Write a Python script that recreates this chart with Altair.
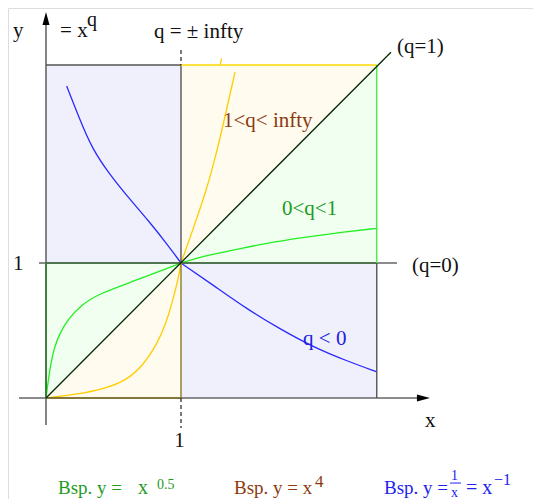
import altair as alt
import pandas as pd

# ---------------- data (in chart units: 1 = the "1" tick) ----------------
X_DOMAIN = [-0.28148, 3.60741]
Y_DOMAIN = [-0.74815, 2.88889]
XMAX, YMAX = 2.45, 2.467

# example curves, each drawn as two branches meeting at (1, 1)
blue_a_x = [0.153, 0.252, 0.339, 0.474, 0.598, 0.770, 0.894, 1.0]
blue_a_y = [2.311, 2.059, 1.852, 1.652, 1.500, 1.300, 1.144, 1.0]
blue_b_x = [1.0, 1.237, 1.489, 1.733, 1.978, 2.230, 2.452]
blue_b_y = [1.0, 0.837, 0.659, 0.511, 0.378, 0.274, 0.193]

yellow_a_x = [0.0, 0.2, 0.450, 0.598, 0.721, 0.820, 0.894, 0.943, 0.980, 1.0]
yellow_a_y = [0.0, 0.022, 0.072, 0.133, 0.244, 0.393, 0.565, 0.739, 0.887, 1.0]
yellow_b_x = [1.0, 1.096, 1.189, 1.256, 1.315, 1.359, 1.400]
yellow_b_y = [1.0, 1.269, 1.541, 1.787, 2.037, 2.232, 2.413]

yellow_tick_x = [1.289, 1.301]
yellow_tick_y = [2.467, 2.516]

green_a_x = [0.0, 0.030, 0.060, 0.100, 0.160, 0.260, 0.400, 0.650, 1.0]
green_a_y = [0.0, 0.230, 0.370, 0.475, 0.580, 0.690, 0.775, 0.865, 1.0]
green_b_x = [1.0, 1.202, 1.450, 1.696, 1.943, 2.190, 2.450]
green_b_y = [1.0, 1.059, 1.109, 1.158, 1.195, 1.227, 1.257]

# filled regions
fill_region = ["ul", "ul", "lr", "lr", "llg", "llg", "lly", "lly", "ury", "ury", "urg", "urg"]
fill_x = [0, 1, 1, XMAX, 0, 1, 0, 1, 1, XMAX, 1, XMAX]
fill_y = [1, 1, 0, 0, 0, 1, 0, 0, 1, XMAX, 1, 1]
fill_y2 = [YMAX, YMAX, 1, 1, 1, 1, 0, 1, YMAX, YMAX, 1, XMAX]
fill_color = ["#f0f0fc"] * 4 + ["#f0fff0"] * 2 + ["#fffcef"] * 2 + ["#fffcef"] * 2 + ["#f0fff0"] * 2

# solid segments
seg_x = [-0.2, 0, -0.052, 0, 1, 1, 0, 1, XMAX, XMAX, 0, 0, 0, 1]
seg_y = [0, -0.2, 1, 1, YMAX, 1, YMAX, YMAX, YMAX, 1, 0, 0, 0, 1]
seg_x2 = [2.8, 0, 2.6, XMAX, 1, 1, 1, XMAX, XMAX, XMAX, 0, 1, 2.555, 1]
seg_y2 = [0, 2.82, 1, 1, 1, 0, YMAX, YMAX, 1, 0, 1, 0, 2.561, 1]
seg_color = ["#666666", "#666666", "#666666", "#3f6f3f", "#555555", "#8a7d20", "#555555",
             "#ffd700", "#44ee44", "#555555", "#2f7f2f", "#807020", "#062806", "#555555"]
seg_width = [1.6, 1.6, 1.6, 1.6, 1.4, 1.4, 1.6, 1.4, 1.4, 1.4, 1.6, 1.6, 1.3, 1.0]

# dashed segments (x = 1 outside the box)
dash_x = [1, 1]
dash_y = [2.578, 0]
dash_y2 = [YMAX, -0.222]

# labels
lab_text = ["y", "= x", "q", "q = ± infty", "(q=1)", "1<q< infty", "0<q<1", "(q=0)", "q < 0",
            "1", "1", "x",
            "Bsp. y =", "x", "0.5", "Bsp. y = x", "4", "Bsp. y =", "1", "x", "= x", "−1"]
lab_x = [-0.244, 0.104, 0.304, 0.800, 2.600, 1.311, 1.748, 2.711, 1.904,
         -0.244, 0.950, 2.807,
         0.089, 0.681, 0.822, 1.393, 1.993, 2.504, 3.000, 3.000, 3.111, 3.319]
lab_y = [2.674, 2.674, 2.756, 2.667, 2.556, 2.007, 1.356, 0.933, 0.393,
         0.948, -0.363, -0.215,
         -0.711, -0.711, -0.674, -0.711, -0.659, -0.711, -0.607, -0.733, -0.711, -0.644]
lab_size = [21, 21, 20, 21, 21, 21, 21, 21, 21,
            21, 21, 21,
            19, 20, 14, 19, 17, 19, 14, 14, 20, 16]
lab_color = ["#111111"] * 5 + ["#8b3a0f", "#1f9a1f", "#111111", "#2222dd"] + ["#111111"] * 3 + \
            ["#1f9a1f", "#1f9a1f", "#1f9a1f", "#8b3a0f", "#8b3a0f"] + ["#2222ee"] * 5

frac_x = [2.993]
frac_x2 = [3.074]
frac_y = [-0.630]

arrow_x = [2.844, 0]
arrow_y = [0, 2.859]
arrow_shape = ["M0,0L-2,-0.54L-2,0.54Z", "M0,0L-0.54,2L0.54,2Z"]

SERIF = "Liberation Serif, Times New Roman, DejaVu Serif, serif"

# ---------------- build tables ----------------
branches = [
    ("blue_a", blue_a_x, blue_a_y, "#2a2aff"),
    ("blue_b", blue_b_x, blue_b_y, "#2a2aff"),
    ("yellow_a", yellow_a_x, yellow_a_y, "#ffcc00"),
    ("yellow_b", yellow_b_x, yellow_b_y, "#ffcc00"),
    ("ytick", yellow_tick_x, yellow_tick_y, "#ffcc00"),
    ("green_a", green_a_x, green_a_y, "#22ee22"),
    ("green_b", green_b_x, green_b_y, "#22ee22"),
]
rows = []
for name, bx, by, col in branches:
    for i, (a, b) in enumerate(zip(bx, by)):
        rows.append({"x": a, "y": b, "curve": name, "color": col, "idx": i})
curves = pd.DataFrame(rows)

fills = pd.DataFrame({"region": fill_region, "x": fill_x, "y": fill_y, "y2": fill_y2, "color": fill_color})
segs = pd.DataFrame({"x": seg_x, "y": seg_y, "x2": seg_x2, "y2": seg_y2, "color": seg_color, "w": seg_width})
dashes = pd.DataFrame({"x": dash_x, "y": dash_y, "y2": dash_y2})
labels = pd.DataFrame({"text": lab_text, "x": lab_x, "y": lab_y, "size": lab_size, "color": lab_color})
frac = pd.DataFrame({"x": frac_x, "x2": frac_x2, "y": frac_y})
arrows = pd.DataFrame({"x": arrow_x, "y": arrow_y, "shape": arrow_shape})

xs = alt.Scale(domain=X_DOMAIN, nice=False, zero=False)
ys = alt.Scale(domain=Y_DOMAIN, nice=False, zero=False)
X = lambda f="x": alt.X(f"{f}:Q", scale=xs, axis=None)
Y = lambda f="y": alt.Y(f"{f}:Q", scale=ys, axis=None)

fill_layer = alt.Chart(fills).mark_area(opacity=1).encode(
    x=X(), y=Y(), y2="y2:Q", detail="region:N", color=alt.Color("color:N", scale=None))

curve_layer = alt.Chart(curves).mark_line(strokeWidth=1.3, interpolate="basis").encode(
    x=X(), y=Y(), detail="curve:N", order="idx:Q", color=alt.Color("color:N", scale=None))

seg_layer = alt.Chart(segs).mark_rule().encode(
    x=X(), y=Y(), x2="x2:Q", y2="y2:Q",
    color=alt.Color("color:N", scale=None), strokeWidth=alt.StrokeWidth("w:Q", scale=None))

dash_layer = alt.Chart(dashes).mark_rule(color="#222222", strokeWidth=1.2, strokeDash=[4, 3]).encode(
    x=X(), y=Y(), y2="y2:Q")

frac_layer = alt.Chart(frac).mark_rule(color="#2222ee", strokeWidth=1).encode(
    x=X(), x2="x2:Q", y=Y())

arrow_layer = alt.Chart(arrows).mark_point(filled=True, opacity=1, color="#000000", size=169, strokeWidth=0).encode(
    x=X(), y=Y(), shape=alt.Shape("shape:N", scale=None))

text_layer = alt.Chart(labels).mark_text(align="left", baseline="alphabetic", font=SERIF).encode(
    x=X(), y=Y(), text="text:N",
    size=alt.Size("size:Q", scale=None), color=alt.Color("color:N", scale=None))

chart = alt.layer(fill_layer, curve_layer, seg_layer, dash_layer, frac_layer, arrow_layer, text_layer).properties(
    width=525, height=491, autosize=alt.AutoSizeParams(type="none"), padding=0
).configure_view(stroke="transparent", strokeWidth=0).configure_text(font=SERIF).configure(background="white")

chart.save("out.html", embed_options={"renderer": "svg", "actions": False})
